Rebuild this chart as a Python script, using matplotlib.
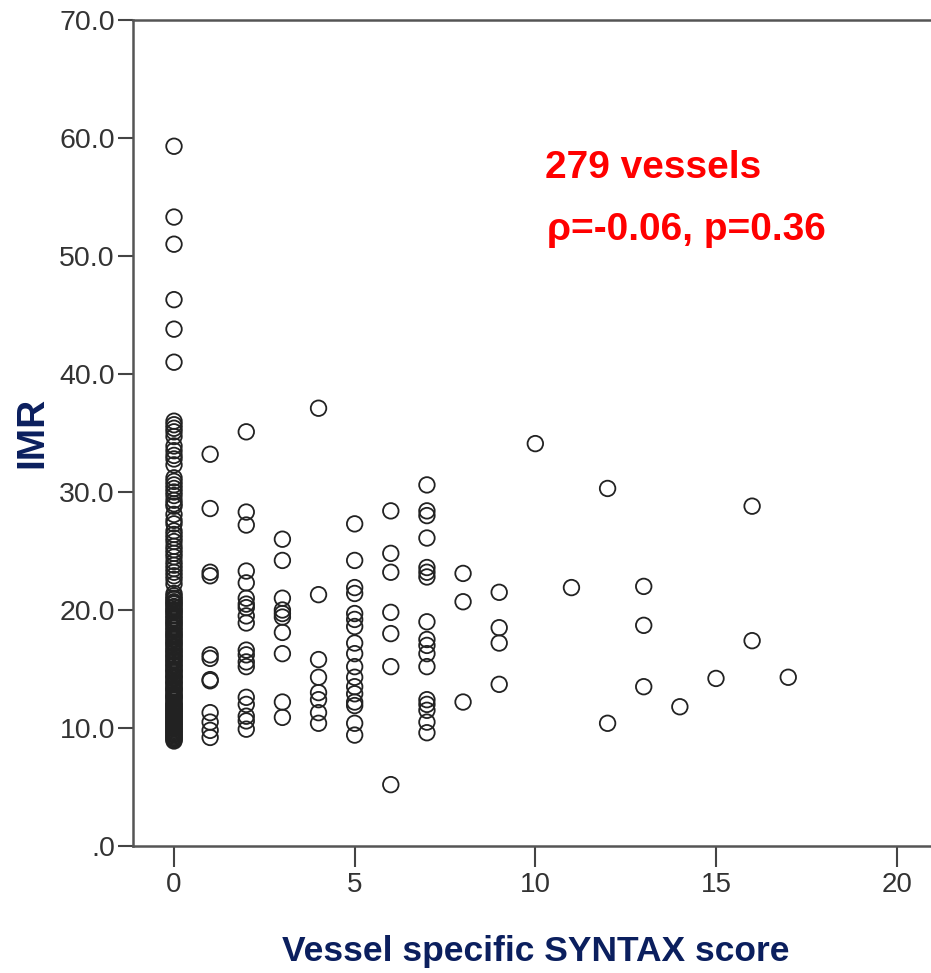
import matplotlib
matplotlib.use("Agg")
import matplotlib.pyplot as plt
from matplotlib import font_manager

# ---------------- data ----------------
score_0 = [59.3, 53.3, 51.0, 46.3, 43.8, 41.0,
           36.0, 35.7, 35.4, 35.1, 34.7, 33.9, 33.5, 33.1, 32.8, 32.3, 31.2, 30.9,
           30.6, 30.3, 30.0, 29.7, 29.3, 29.0, 28.8, 28.1, 27.6, 27.3, 26.7, 26.4,
           26.1, 25.8, 25.4, 25.1, 24.8, 24.5, 24.1, 23.8, 23.5, 23.2, 22.9, 22.6,
           22.2, 21.4, 21.2,
           21.0, 20.9, 20.7, 20.6, 20.5, 20.3, 20.2, 20.0, 19.9, 19.8, 19.6, 19.5,
           19.3, 19.2, 19.0, 18.9, 18.8, 18.6, 18.5, 18.3, 18.2, 18.0, 17.9, 17.8,
           17.6, 17.5, 17.3, 17.2, 17.1, 16.9, 16.8, 16.6, 16.5, 16.4, 16.2, 16.1,
           16.0, 15.8, 15.7, 15.6, 15.4, 15.3, 15.2, 15.0, 14.9, 14.8, 14.7, 14.5,
           14.4, 14.3, 14.2, 14.0, 13.9, 13.8, 13.7, 13.5, 13.4, 13.3, 13.2, 13.1,
           12.9, 12.8, 12.7, 12.6, 12.5, 12.4, 12.2, 12.1, 12.0, 11.9, 11.8, 11.7,
           11.6, 11.5, 11.4, 11.3, 11.2, 11.1, 11.0, 10.9, 10.8, 10.7, 10.6, 10.5,
           10.4, 10.3, 10.2, 10.1, 10.0, 9.9, 9.8, 9.7, 9.6, 9.5, 9.4, 9.3, 9.2,
           9.1, 9.0, 8.9]
score_1 = [33.2, 28.6, 23.2, 22.9, 16.2, 15.9, 14.1, 14.0, 11.3, 10.5, 9.8, 9.2]
score_2 = [35.1, 28.3, 27.2, 23.3, 22.3, 21.0, 20.5, 20.2, 19.5, 18.9, 16.6, 16.2,
           15.6, 15.2, 12.6, 12.0, 11.0, 10.6, 9.9]
score_3 = [26.0, 24.2, 21.0, 20.0, 19.7, 19.4, 18.1, 16.3, 12.2, 10.9]
score_4 = [37.1, 21.3, 15.8, 14.3, 13.0, 12.4, 11.3, 10.4]
score_5 = [27.3, 24.2, 21.9, 21.4, 19.7, 19.2, 18.6, 17.2, 16.3, 15.2, 14.3, 13.5,
           12.9, 12.2, 11.9, 10.4, 9.4]
score_6 = [28.4, 24.8, 23.2, 19.8, 18.0, 15.2, 5.2]
score_7 = [30.6, 28.4, 28.0, 26.1, 23.6, 23.2, 22.8, 19.0, 17.5, 17.0, 16.3, 15.2,
           12.4, 12.0, 11.5, 10.5, 9.6]
score_8 = [23.1, 20.7, 12.2]
score_9 = [21.5, 18.5, 17.2, 13.7]
score_10 = [34.1]
score_11 = [21.9]
score_12 = [30.3, 10.4]
score_13 = [22.0, 18.7, 13.5]
score_14 = [11.8]
score_15 = [14.2]
score_16 = [28.8, 17.4]
score_17 = [14.3]

imr_by_score = [score_0, score_1, score_2, score_3, score_4, score_5, score_6,
                score_7, score_8, score_9, score_10, score_11, score_12,
                score_13, score_14, score_15, score_16, score_17]

x_ticks = [0, 5, 10, 15, 20]
y_ticks = [0, 10, 20, 30, 40, 50, 60, 70]
y_tick_labels = [".0", "10.0", "20.0", "30.0", "40.0", "50.0", "60.0", "70.0"]

annotation = ["279 vessels", "ρ=-0.06, p=0.36"]
x_label = "Vessel specific SYNTAX score"
y_label = "IMR"

# ---------------- plot ----------------
names = {f.name for f in font_manager.fontManager.ttflist}
narrow = "Liberation Sans Narrow" if "Liberation Sans Narrow" in names else "Liberation Sans"
bold_family = [narrow, "DejaVu Sans"]
tick_family = ["Liberation Sans", "DejaVu Sans"]

xs, ys = [], []
for score, vals in enumerate(imr_by_score):
    for v in vals:
        xs.append(score)
        ys.append(v)

W, H = 931, 973
fig = plt.figure(figsize=(W / 100, H / 100), dpi=100)
ax_w, ax_h = 940 - 133, 846 - 20
ax = fig.add_axes([133 / W, (H - 846) / H, ax_w / W, ax_h / H])

ax.scatter(xs, ys, s=125, facecolors="none", edgecolors="#222222", linewidths=1.3,
           zorder=3)

ax.set_xlim(-1.135, 21.2)
ax.set_ylim(0, 70)
ax.set_xticks(x_ticks)
ax.set_xticklabels([str(t) for t in x_ticks], family=tick_family, fontsize=20,
                   color="#333333")
ax.set_yticks(y_ticks)
ax.set_yticklabels(y_tick_labels, family=tick_family, fontsize=20.5, color="#333333")
ax.tick_params(axis="y", direction="out", length=11, width=1.5, color="#444444", pad=2)
ax.tick_params(axis="x", direction="out", length=15, width=1.5, color="#444444", pad=4)

for side in ["left", "bottom", "top"]:
    ax.spines[side].set_color("#555555")
    ax.spines[side].set_linewidth(1.8)
ax.spines["right"].set_visible(False)

navy = "#0b1f5e"
ax.set_xlabel(x_label, family=bold_family, fontweight="bold", fontsize=25.5,
              color=navy)
ax.xaxis.set_label_coords((536 - 133) / ax_w, (846 - 935) / ax_h)
ax.set_ylabel(y_label, family=bold_family, fontweight="bold", fontsize=28,
              color=navy)
ax.yaxis.set_label_coords((50 - 133) / ax_w, (846 - 432) / ax_h)

red_size = 28
fig.text(545 / W, 1 - 178 / H, annotation[0], family=bold_family,
         fontweight="bold", fontsize=red_size, color="#ff0000", ha="left",
         va="baseline")
fig.text(547 / W, 1 - 240 / H, annotation[1], family=bold_family,
         fontweight="bold", fontsize=red_size, color="#ff0000", ha="left",
         va="baseline")

fig.savefig("out.png", dpi=100)
